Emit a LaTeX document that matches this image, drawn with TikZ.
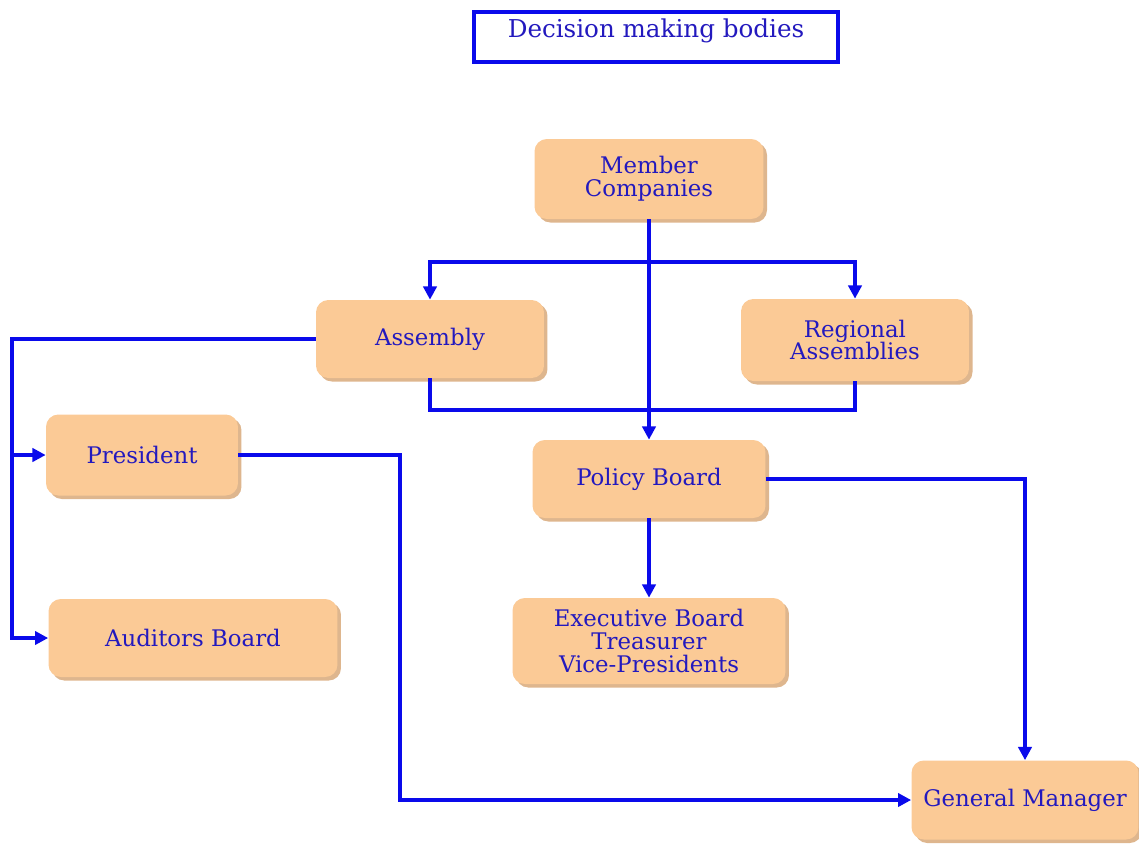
\documentclass[tikz,border=0pt]{standalone}
\usepackage{fontspec}
\setmainfont{DejaVu Serif}
\usetikzlibrary{arrows.meta,shadows}
\definecolor{boxfill}{RGB}{251,202,150}
\definecolor{boxshade}{RGB}{222,182,142}
\definecolor{linkblue}{RGB}{10,10,235}
\definecolor{textblue}{RGB}{35,25,190}

\begin{document}
\begin{tikzpicture}[
    x=0.02cm, y=-0.02cm,
    body/.style={rectangle, rounded corners=7pt, fill=boxfill, align=center, text=textblue,
      font=\fontsize{13}{13}\selectfont,
      drop shadow={shadow xshift=2pt, shadow yshift=-2pt, fill=boxshade, opacity=1}},
    heading/.style={rectangle, draw=linkblue, line width=2.3pt, text=textblue, inner ysep=0pt,
      text height=14pt, text depth=14pt, font=\fontsize{14}{16}\selectfont},
    link/.style={draw=linkblue, line width=2.3pt},
    relation/.style={link, -{Triangle[length=7.5pt, width=7.5pt]}}
  ]
    \useasboundingbox (0,0) rectangle (1139,846);

    % Title
    \node[heading, minimum width=7.28cm] (title) at (656,37) {Decision making bodies};

    % Top: members and assemblies
    \node[body, minimum width=4.58cm, minimum height=1.6cm] (member) at (649,179) {Member\\Companies};
    \node[body, minimum width=4.56cm, minimum height=1.56cm] (assembly) at (430,339) {Assembly};
    \node[body, minimum width=4.56cm, minimum height=1.64cm] (regional) at (855,340) {Regional\\Assemblies};

    % Middle: boards
    \node[body, minimum width=3.84cm, minimum height=1.62cm] (president) at (142,455) {President};
    \node[body, minimum width=4.66cm, minimum height=1.56cm] (policy) at (649,479) {Policy Board};
    \node[body, minimum width=5.78cm, minimum height=1.56cm] (auditors) at (193,638) {Auditors Board};
    \node[body, minimum width=5.46cm, minimum height=1.72cm] (exec) at (649,641) {Executive Board\\Treasurer\\Vice-Presidents};

    % Bottom: manager
    \node[body, minimum width=4.54cm, minimum height=1.58cm] (gm) at (1025,800) {General Manager};

    % Helper points
    \coordinate (split) at (649,262);
    \coordinate (merge) at (649,410);
    \coordinate (rail) at (12,0);
    \coordinate (drop) at (400,0);

    % Relations
    \draw[relation] (member) -- (policy);
    \draw[relation] (split) -| (assembly.north);
    \draw[relation] (split) -| (regional.north);
    \draw[link] (assembly.south) |- (merge) -| (regional.south);

    \draw[relation] (assembly.west) -- (assembly.west -| rail) |- (auditors.west);
    \draw[relation] (president.west -| rail) -- (president.west);
    \draw[relation] (president.east) -- (president.east -| drop) |- (gm.west);

    \draw[relation] (policy.east) -| (gm.north);
    \draw[relation] (policy) -- (exec);
  \end{tikzpicture}
\end{document}
